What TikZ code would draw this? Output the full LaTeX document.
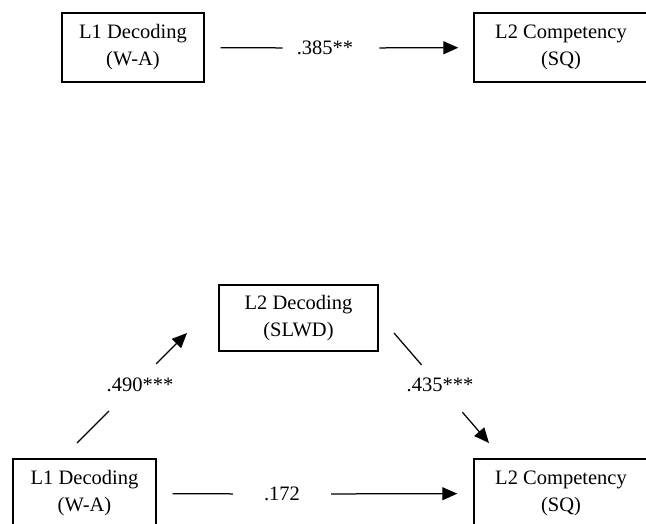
\documentclass[tikz,border=0pt]{standalone}
\usepackage{fontspec}
\setmainfont{Liberation Serif}
\usetikzlibrary{calc, positioning}
\usetikzlibrary{arrows.meta}
\begin{document}
\begin{tikzpicture}[x=1pt,y=-1pt,
  font=\fontsize{20.5}{27}\selectfont,
  box/.style={draw,line width=1.4pt,align=center,inner sep=0pt},
  coef/.style={inner sep=0pt},
  link/.style={line width=1.25pt},
  tip/.style={-{Triangle[length=15pt,width=13pt]}}]
\useasboundingbox (0,0) rectangle (646,523);
% total effect
\node[box,minimum width=142pt,minimum height=69pt] (decA) at (133,47.5) {L1 Decoding\\(W-A)};
\node[box,minimum width=174pt,minimum height=69pt] (compA) at (561,47.5) {L2 Competency\\(SQ)};
\node[coef] (c385) at (325,48) {.385**};
\draw[link,shorten <=16pt,shorten >=14pt] (decA) -- (c385);
\draw[link,tip,shorten <=26pt,shorten >=15pt] (c385) -- (compA);
% mediated model
\node[box,minimum width=143pt,minimum height=69pt] (decB) at (84.5,493.5) {L1 Decoding\\(W-A)};
\node[box,minimum width=159pt,minimum height=66pt] (slwd) at (298.5,318) {L2 Decoding\\(SLWD)};
\node[box,minimum width=174pt,minimum height=69pt] (compB) at (561,493.5) {L2 Competency\\(SQ)};
\node[coef] (c172) at (282,494) {.172};
\draw[link,shorten <=16pt,shorten >=31pt] (decB) -- (c172);
\draw[link,tip,shorten <=31pt,shorten >=16pt] (c172) -- (compB);
\node[coef] (c490) at (140,385) {.490***};
\node[coef] (c435) at (440,385) {.435***};
\coordinate (f490) at (77,443);
\coordinate (t490) at (187,333);
\coordinate (f435) at (394,333);
\coordinate (t435) at (489,443);
\foreach \a/\b in {f490/t490,f435/t435}{
  \draw[link] (\a) -- ($(\a)!.29!(\b)$);
  \draw[link,tip] ($(\a)!.72!(\b)$) -- (\b);
}
\end{tikzpicture}
\end{document}
